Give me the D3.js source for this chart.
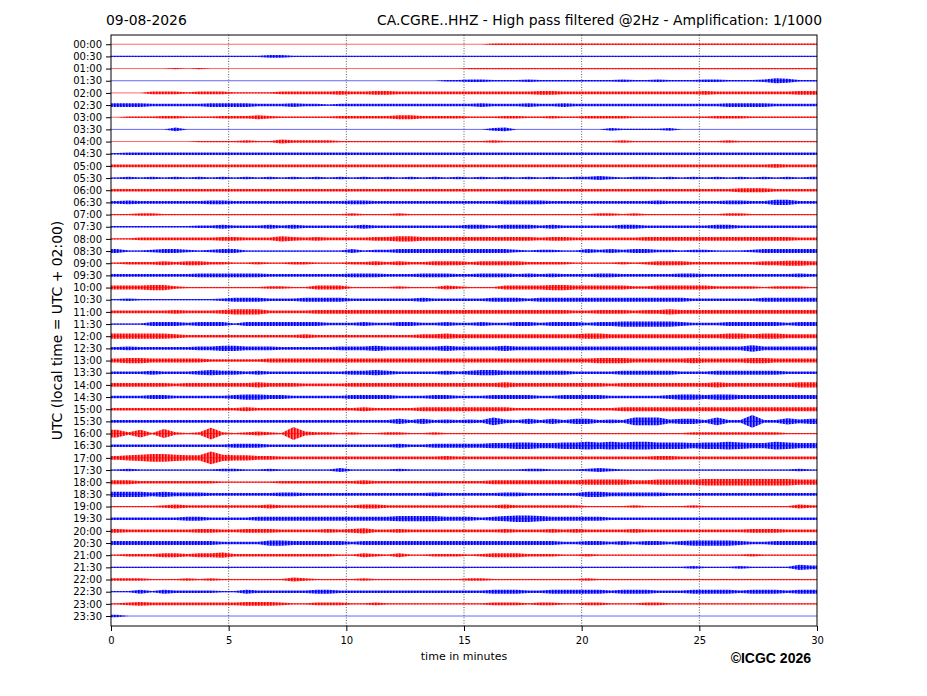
<!DOCTYPE html>
<html><head><meta charset="utf-8">
<script src="https://cdn.jsdelivr.net/npm/d3@7"></script>
<style>
body{margin:0;background:#fff;}
svg{display:block;}
text{font-family:"DejaVu Sans",sans-serif;}
</style>
</head><body>
<svg id="c" width="927" height="696"></svg>
<script>
// ---------------- data ----------------
const dateLabel = "09-08-2026";
const titleText = "CA.CGRE..HHZ - High pass filtered @2Hz - Amplification: 1/1000";
const yAxisLabel = "UTC (local time = UTC + 02:00)";
const xAxisLabel = "time in minutes";
const creditText = "©ICGC 2026";
const rowLabels = ["00:00","00:30","01:00","01:30","02:00","02:30","03:00","03:30","04:00","04:30",
  "05:00","05:30","06:00","06:30","07:00","07:30","08:00","08:30","09:00","09:30",
  "10:00","10:30","11:00","11:30","12:00","12:30","13:00","13:30","14:00","14:30",
  "15:00","15:30","16:00","16:30","17:00","17:30","18:00","18:30","19:00","19:30",
  "20:00","20:30","21:00","21:30","22:00","22:30","23:00","23:30"];
const xTicks = [0,5,10,15,20,25,30];
const minutesPerRow = 30;
const binMinutes = 0.5;
// envelope (half amplitude level, hex digit) per 30 s bin
const envelopes = [
"00000 00000 00000 00000 00000 00000 00111 11111 11111 11111 11111 11111",
"11111 11111 11122 11111 11111 11111 11111 11111 11111 11111 11111 11111",
"00000 10100 00000 00000 00000 00000 11111 11111 11111 11111 11111 11111",
"00000 00000 00000 00000 00000 00011 22111 21111 11121 12111 22111 24311",
"00022 21222 11112 22223 22332 22222 22222 23322 22222 22222 32222 22233",
"33322 22233 33222 32212 22222 22222 23222 32232 22222 22222 22333 32222",
"01112 21112 22321 11112 22223 32222 11122 11211 22221 11111 12221 11111",
"00000 30000 00000 00000 00000 00000 00230 00000 00211 11200 00000 00000",
"00000 00111 12113 22221 11111 11111 11211 11111 11121 11111 11211 11111",
"12222 22222 22222 22222 22222 22222 22222 22222 22222 22222 22222 22222",
"22222 22222 22222 22222 22222 22222 22222 22222 22222 22222 22222 23222",
"12121 21212 12121 21212 12121 21212 12121 21212 23212 21212 12121 21212",
"22222 22222 22222 22222 22222 22222 22222 22222 22222 22222 22233 32222",
"23222 22233 22222 22222 33222 22222 22233 33222 22222 23222 22332 24422",
"11221 11111 11111 11111 21112 11111 11111 11111 12212 11111 11221 11111",
"11111 11223 22232 32222 23222 22222 33233 32322 22233 22222 23322 22222",
"11222 22223 32224 32322 22334 43333 33333 32332 22222 33333 33333 33322",
"31123 32123 31111 11111 31223 33333 33332 12211 32323 32212 21112 33333",
"12223 23322 11211 22111 22323 22333 23333 22221 11121 23332 22222 33443",
"22222 22333 33322 22222 33322 23332 23332 32322 23322 22233 22222 22232",
"33344 21111 11122 11333 11112 11132 11133 33443 33332 23333 32222 12221",
"12111 11112 33322 23333 22222 23222 22333 23333 33333 33332 22222 33333",
"22222 32223 44422 22333 33333 33333 33333 33332 23332 33433 33333 33333",
"11133 32333 13333 33322 23223 32232 23223 32333 23344 44432 22333 33233",
"44444 32222 22222 23222 22222 23343 33333 33333 44333 33333 33443 44333",
"23222 22334 43332 22223 33433 33343 33343 33333 33333 33333 33335 33333",
"34433 33322 22233 33333 33333 33333 33333 33333 34443 33334 33334 43333",
"22232 22343 32322 22222 33432 22232 34433 33332 22233 33322 23333 33222",
"33333 23333 33433 32222 33333 33333 33343 33333 33233 33333 34333 33344",
"22233 22222 34433 22222 33332 22332 22333 32233 33222 22344 34433 33333",
"22222 22222 23222 22222 23222 23333 33332 22222 22233 33333 33333 33333",
"22222 22222 22222 22222 22224 24232 32632 42424 42326 66344 2622a 22534",
"62617 21292 12321 a3221 21122 11211 11111 11111 11111 11112 22222 22111",
"22222 22222 33322 22222 22223 22333 33445 54455 65656 65554 55654 46544",
"34566 544a5 44332 22222 22222 22232 22222 22222 22222 23322 22222 22222",
"12111 11112 21121 11113 11112 11111 11111 22111 23211 11111 11111 11121",
"33222 22221 11112 22222 23222 22222 22333 33333 44443 34444 55555 55544",
"44434 33322 22223 32222 22222 22322 22233 22222 44333 33222 22222 22222",
"11112 32222 22232 22222 23322 22222 22232 22222 11112 11112 11111 11132",
"22222 23322 22333 33333 33334 44433 32345 54333 33222 22222 22222 22222",
"32222 22332 23332 22232 34223 22222 22232 22323 22223 22222 22223 33222",
"33333 33332 22244 33333 23333 33333 33333 33322 33232 33234 44432 23333",
"12223 32334 22222 22221 13213 11222 12333 22211 21111 11111 11112 11111",
"11111 11111 11111 11111 11111 11111 11111 11111 11111 11112 11121 11143",
"22211 12121 11111 32111 12111 11111 22111 11111 21111 11111 11111 11111",
"11313 22221 13222 22332 22222 22222 22333 22333 33233 32223 33323 33233",
"12322 22222 23332 11222 11211 11111 11222 12211 22111 22111 11111 11111",
"20000 00000 00000 00000 00000 00000 00000 00000 00000 00000 00000 00000"
];

// ---------------- drawing ----------------
const traceColors = ["#ff0000", "#0000ff"];
const svg = d3.select("#c");
const x = d3.scaleLinear().domain([0, minutesPerRow]).range([111, 817]);
const y = d3.scaleLinear().domain([-0.76, 47.82]).range([35, 626]);
const amp = d3.scaleLinear().domain([0, 15]).range([0, 0.8]); // in row units

const defs = svg.append("defs");
defs.append("clipPath").attr("id", "clip")
  .append("rect").attr("x", x(0)).attr("y", y.range()[0])
  .attr("width", x(minutesPerRow) - x(0)).attr("height", y.range()[1] - y.range()[0]);
// striped fill to mimic the dense oscillation of the traces
const stripeOpacity = [1, 0.8, 0.5];
traceColors.forEach((c, k) => {
  const p = defs.append("pattern").attr("id", "hatch" + k)
    .attr("patternUnits", "userSpaceOnUse").attr("width", stripeOpacity.length).attr("height", 20);
  stripeOpacity.forEach((o, j) => {
    p.append("rect").attr("x", j).attr("y", 0).attr("width", 1).attr("height", 20)
      .attr("fill", c).attr("fill-opacity", o);
  });
});

// grid
svg.append("g").selectAll("line")
  .data(xTicks.filter(t => t > 0 && t < minutesPerRow)).join("line")
  .attr("x1", d => x(d)).attr("x2", d => x(d))
  .attr("y1", y.range()[0]).attr("y2", y.range()[1])
  .attr("stroke", "#333").attr("stroke-width", 0.8)
  .attr("stroke-dasharray", "1,1.6");

const traces = svg.append("g").attr("clip-path", "url(#clip)");
const area = d3.area()
  .x(d => x(d.t))
  .y0(d => y(d.row + amp(d.a)))
  .y1(d => y(d.row - amp(d.a)))
  .curve(d3.curveLinear);

envelopes.forEach((s, i) => {
  const vals = s.replace(/\s/g, "").split("").map(c => parseInt(c, 16));
  const pts = vals.map((a, k) => ({ t: (k + 0.5) * binMinutes, a, row: i }));
  pts.unshift({ t: 0, a: vals[0], row: i });
  pts.push({ t: minutesPerRow, a: vals[vals.length - 1], row: i });
  const col = traceColors[i % 2];
  traces.append("path").datum(pts)
    .attr("d", area)
    .attr("fill", `url(#hatch${i % 2})`);
  traces.append("line")
    .attr("x1", x(0)).attr("x2", x(minutesPerRow))
    .attr("y1", y(i)).attr("y2", y(i))
    .attr("stroke", col).attr("stroke-width", 1).attr("stroke-opacity", 0.6);
});

// axes
const yAxis = svg.append("g").attr("transform", `translate(${x(0)},0)`)
  .call(d3.axisLeft(y).tickValues(d3.range(rowLabels.length))
    .tickFormat(i => rowLabels[i]).tickSize(5).tickPadding(4));
yAxis.select(".domain").remove();
yAxis.selectAll("text").style("font-size", "10px").attr("fill", "#000");
yAxis.selectAll("line").attr("stroke", "#000");

const xAxis = svg.append("g").attr("transform", `translate(0,${y.range()[1]})`)
  .call(d3.axisBottom(x).tickValues(xTicks).tickSize(5).tickPadding(6));
xAxis.select(".domain").remove();
xAxis.selectAll("text").style("font-size", "10px").attr("fill", "#000");
xAxis.selectAll("line").attr("stroke", "#000");

// frame
svg.append("rect")
  .attr("x", x(0)).attr("y", y.range()[0])
  .attr("width", x(minutesPerRow) - x(0)).attr("height", y.range()[1] - y.range()[0])
  .attr("fill", "none").attr("stroke", "#000").attr("stroke-width", 1);

// texts
svg.append("text").attr("x", 106).attr("y", 25)
  .style("font-size", "13.9px").text(dateLabel);
svg.append("text").attr("x", 822).attr("y", 25).attr("text-anchor", "end")
  .style("font-size", "13.9px").text(titleText);
svg.append("text").attr("x", (x(0) + x(minutesPerRow)) / 2).attr("y", 660)
  .attr("text-anchor", "middle").style("font-size", "11px").text(xAxisLabel);
svg.append("text")
  .attr("transform", `translate(62,${(y.range()[0] + y.range()[1]) / 2}) rotate(-90)`)
  .attr("text-anchor", "middle").style("font-size", "13.9px").text(yAxisLabel);
svg.append("text").attr("x", 811).attr("y", 663).attr("text-anchor", "end")
  .style("font-family", "'Liberation Sans', Arial, sans-serif")
  .style("font-weight", "bold").style("font-size", "14px").text(creditText);
</script>
</body></html>
